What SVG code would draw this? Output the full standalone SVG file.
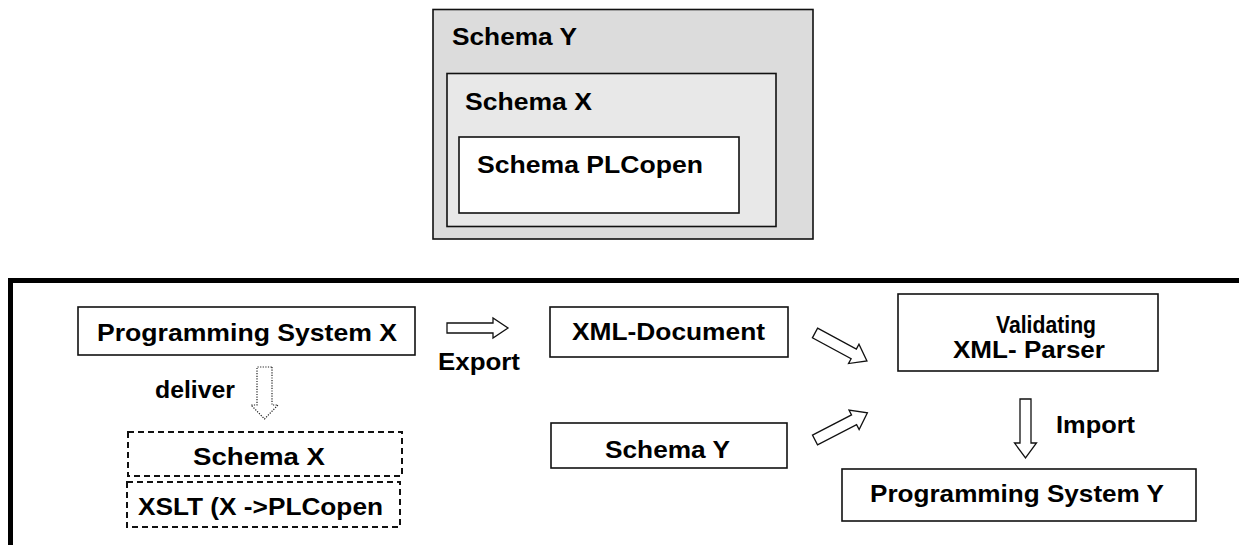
<svg xmlns="http://www.w3.org/2000/svg" width="1239" height="545" viewBox="0 0 1239 545">
<style>
text{font-family:"Liberation Sans",Arial,sans-serif;font-weight:bold;font-size:24px;fill:#000}
.box{fill:#fff;stroke:#111;stroke-width:1.6}
.dash{fill:#fff;stroke:#111;stroke-width:2;stroke-dasharray:6,4}
.arr{fill:#fff;stroke:#111;stroke-width:1.3;stroke-linejoin:miter}
.dot{fill:#fff;stroke:#222;stroke-width:1.2;stroke-dasharray:1.2,1.4}
</style>
<rect width="1239" height="545" fill="#fff"/>
<g id="schemaY-outer">
<rect x="433" y="9.5" width="380" height="229.5" fill="#dcdcdc" stroke="#111" stroke-width="1.6"/>
<text x="452" y="45" textLength="125" lengthAdjust="spacingAndGlyphs">Schema Y</text>
</g>
<g id="schemaX-inner">
<rect x="447" y="73.5" width="329" height="153" fill="#e8e8e8" stroke="#111" stroke-width="1.6"/>
<text x="465" y="110" textLength="127" lengthAdjust="spacingAndGlyphs">Schema X</text>
</g>
<g id="schemaPLCopen">
<rect x="459" y="137" width="280" height="76" class="box"/>
<text x="477" y="173" textLength="226" lengthAdjust="spacingAndGlyphs">Schema PLCopen</text>
</g>
<g id="frame">
<path d="M10.5,545 V280.5 H1239" fill="none" stroke="#000" stroke-width="5"/>
</g>
<g id="progX">
<rect x="78" y="307" width="337" height="48" class="box"/>
<text x="97" y="341" textLength="300" lengthAdjust="spacingAndGlyphs">Programming System X</text>
</g>
<g id="schemaX-file">
<rect x="128" y="432" width="274" height="44" class="dash"/>
<text x="193" y="465" textLength="132" lengthAdjust="spacingAndGlyphs">Schema X</text>
</g>
<g id="xslt">
<rect x="127" y="482" width="273" height="45" class="dash"/>
<text x="138" y="515" textLength="245" lengthAdjust="spacingAndGlyphs">XSLT (X -&gt;PLCopen</text>
</g>
<g id="xmldoc">
<rect x="550" y="307" width="238" height="50" class="box"/>
<text x="572" y="340" textLength="193" lengthAdjust="spacingAndGlyphs">XML-Document</text>
</g>
<g id="schemaY-file">
<rect x="551" y="423" width="236" height="45" class="box"/>
<text x="605" y="458" textLength="125" lengthAdjust="spacingAndGlyphs">Schema Y</text>
</g>
<g id="parser">
<rect x="898" y="294" width="260" height="77" class="box"/>
<text x="996" y="333" font-size="22" textLength="100" lengthAdjust="spacingAndGlyphs">Validating</text>
<text x="953" y="358" font-size="22" textLength="152" lengthAdjust="spacingAndGlyphs">XML- Parser</text>
</g>
<g id="progY">
<rect x="842" y="469" width="354" height="52" class="box"/>
<text x="870" y="502" textLength="294" lengthAdjust="spacingAndGlyphs">Programming System Y</text>
</g>
<g id="connectors">
<polygon class="dot" transform="translate(264.5,367) rotate(90)" points="0,-7.5 38,-7.5 38,-13.5 52,0 38,13.5 38,7.5 0,7.5"/>
<text x="155" y="398" textLength="80" lengthAdjust="spacingAndGlyphs">deliver</text>
<polygon class="arr" transform="translate(447,328)" points="0,-5 46,-5 46,-10 61,0 46,10 46,5 0,5"/>
<text x="438" y="370" textLength="82" lengthAdjust="spacingAndGlyphs">Export</text>
<polygon class="arr" transform="translate(815,333) rotate(28.3)" points="0,-5.5 44,-5.5 44,-11 59,0 44,11 44,5.5 0,5.5"/>
<polygon class="arr" transform="translate(815,440) rotate(-27.4)" points="0,-5.5 44,-5.5 44,-11 59,0 44,11 44,5.5 0,5.5"/>
<polygon class="arr" transform="translate(1025.5,399) rotate(90)" points="0,-5.5 44,-5.5 44,-11 59,0 44,11 44,5.5 0,5.5"/>
<text x="1056" y="433" textLength="79" lengthAdjust="spacingAndGlyphs">Import</text>
</g>
</svg>
